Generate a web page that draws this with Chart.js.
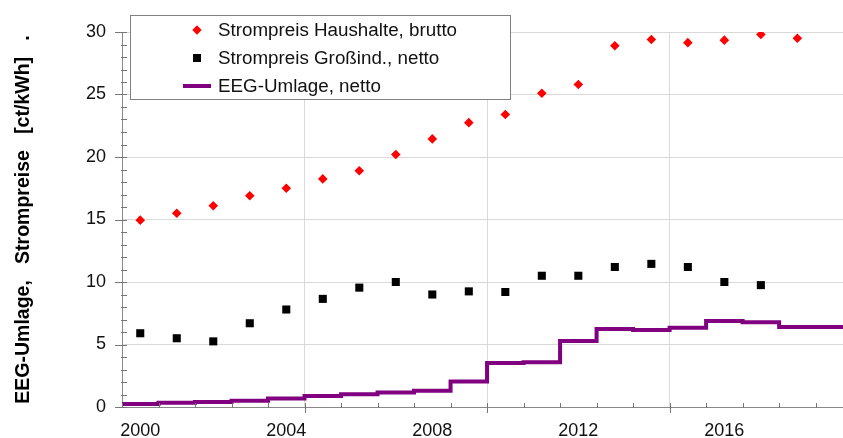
<!DOCTYPE html>
<html>
<head>
<meta charset="utf-8">
<script src="https://cdn.jsdelivr.net/npm/chart.js@4/dist/chart.umd.min.js"></script>
<style>
  html, body { margin: 0; padding: 0; background: #fff; }
</style>
</head>
<body>
<canvas id="grafico" width="843" height="438"></canvas>
<script>
// Daten
const jahre = [2000, 2001, 2002, 2003, 2004, 2005, 2006, 2007, 2008, 2009,
               2010, 2011, 2012, 2013, 2014, 2015, 2016, 2017, 2018, 2019];
const haushalte = [14.95, 15.5, 16.1, 16.9, 17.5, 18.25, 18.9, 20.2, 21.45, 22.75,
                   23.4, 25.1, 25.8, 28.9, 29.4, 29.15, 29.35, 29.8, 29.5];
const grossind = [5.9, 5.5, 5.25, 6.7, 7.8, 8.65, 9.55, 10.0, 9.0, 9.25,
                  9.2, 10.5, 10.5, 11.2, 11.45, 11.2, 10.0, 9.75];
const eegUmlage = [0.2, 0.25, 0.35, 0.41, 0.51, 0.68, 0.88, 1.02, 1.16, 1.31,
                   2.05, 3.53, 3.59, 5.28, 6.24, 6.17, 6.35, 6.88, 6.79, 6.41];
const xBeschriftung = [2000, 2004, 2008, 2012, 2016];
const xGitter = [2004.5, 2009.5, 2014.5];
const xMin = 1999.5, xMax = 2019.25;
const yTicks = [0, 5, 10, 15, 20, 25, 30];

const schrift = "'Liberation Sans', Arial, sans-serif";
const legendeEintraege = [
  { text: 'Strompreis Haushalte, brutto', typ: 'raute', farbe: '#ff0000' },
  { text: 'Strompreis Großind., netto', typ: 'quadrat', farbe: '#000000' },
  { text: 'EEG-Umlage, netto', typ: 'linie', farbe: '#800080' }
];

// Stufenlinie: jeder Wert gilt vom Jahresanfang bis zum Jahresende
const eegPunkte = jahre.map((j, i) => ({ x: j - 0.5, y: eegUmlage[i] }));
eegPunkte.push({ x: jahre[jahre.length - 1] + 0.5, y: eegUmlage[eegUmlage.length - 1] });

// kleine Teilstriche an den Achsen
const teilstriche = {
  id: 'teilstriche',
  afterDatasetsDraw(chart) {
    const { ctx, chartArea, scales } = chart;
    ctx.save();
    ctx.strokeStyle = '#777';
    ctx.lineWidth = 1;
    ctx.beginPath();
    jahre.forEach(j => {
      const x = Math.round(scales.x.getPixelForValue(j - 0.5)) + 0.5;
      if (x > chartArea.right) return;
      const gross = xGitter.includes(j - 0.5);
      ctx.moveTo(x, chartArea.bottom - 4);
      ctx.lineTo(x, chartArea.bottom + (gross ? 6 : 1));
    });
    for (let v = 0; v <= 30; v++) {
      const y = Math.round(scales.y.getPixelForValue(v)) + 0.5;
      const gross = yTicks.includes(v);
      ctx.moveTo(chartArea.left - (gross ? 7 : 1), y);
      ctx.lineTo(chartArea.left + 5, y);
    }
    ctx.stroke();
    ctx.restore();
  }
};

// Legende im Diagramm (Kasten oben links)
const legendeKasten = {
  id: 'legendeKasten',
  afterDraw(chart) {
    const ctx = chart.ctx;
    ctx.save();
    ctx.fillStyle = '#fff';
    ctx.fillRect(130.5, 15.5, 380, 84);
    ctx.strokeStyle = '#808080';
    ctx.lineWidth = 1;
    ctx.strokeRect(130.5, 15.5, 380, 84);
    ctx.font = '18.8px ' + schrift;
    ctx.textBaseline = 'middle';
    legendeEintraege.forEach((e, i) => {
      const y = 30 + i * 28;
      ctx.fillStyle = e.farbe;
      ctx.strokeStyle = e.farbe;
      if (e.typ === 'raute') {
        ctx.beginPath();
        ctx.moveTo(197, y - 4.7); ctx.lineTo(201.7, y);
        ctx.lineTo(197, y + 4.7); ctx.lineTo(192.3, y);
        ctx.closePath(); ctx.fill();
      } else if (e.typ === 'quadrat') {
        ctx.fillRect(193, y - 4, 8, 8);
      } else {
        ctx.lineWidth = 4;
        ctx.beginPath(); ctx.moveTo(183, y); ctx.lineTo(211, y); ctx.stroke();
      }
      ctx.fillStyle = '#111';
      ctx.fillText(e.text, 218, y + 1);
    });
    ctx.restore();
  }
};

const ctx = document.getElementById('grafico').getContext('2d');
const grafico = new Chart(ctx, {
  type: 'line',
  data: {
    datasets: [
      {
        label: 'Strompreis Haushalte, brutto',
        data: haushalte.map((v, i) => ({ x: jahre[i], y: v })),
        showLine: false,
        pointStyle: 'rectRot',
        pointRadius: 4.8,
        pointBorderWidth: 0,
        backgroundColor: '#ff0000',
        borderColor: '#ff0000'
      },
      {
        label: 'Strompreis Großind., netto',
        data: grossind.map((v, i) => ({ x: jahre[i], y: v })),
        showLine: false,
        pointStyle: 'rect',
        pointRadius: 5.7,
        pointBorderWidth: 0,
        backgroundColor: '#000000',
        borderColor: '#000000'
      },
      {
        label: 'EEG-Umlage, netto',
        data: eegPunkte,
        stepped: 'after',
        borderColor: '#800080',
        borderWidth: 4,
        borderJoinStyle: 'miter',
        pointRadius: 0,
        fill: false
      }
    ]
  },
  options: {
    responsive: false,
    animation: false,
    devicePixelRatio: 1,
    layout: { autoPadding: false, padding: { top: 32, right: 0, left: 0, bottom: 0 } },
    plugins: {
      legend: { display: false },
      tooltip: { enabled: false }
    },
    scales: {
      x: {
        type: 'linear',
        min: xMin,
        max: xMax,
        afterBuildTicks: scale => {
          const werte = [xMin, ...xBeschriftung, ...xGitter, xMax].sort((a, b) => a - b);
          scale.ticks = werte.map(v => ({ value: v }));
        },
        afterFit: scale => {
          scale.height = 31;
          scale.paddingLeft = 0;
          scale.paddingRight = 0;
        },
        ticks: {
          autoSkip: false,
          maxRotation: 0,
          padding: 13,
          color: '#111',
          font: { family: schrift, size: 18 },
          callback: v => xBeschriftung.includes(v) ? String(v) : ''
        },
        grid: {
          drawTicks: false,
          color: c => (c.tick && xGitter.includes(c.tick.value)) ? '#d9d9d9' : 'rgba(0,0,0,0)'
        },
        border: { color: '#888' }
      },
      y: {
        min: 0,
        max: 30,
        afterBuildTicks: scale => { scale.ticks = yTicks.map(v => ({ value: v })); },
        afterFit: scale => { scale.width = 122; },
        ticks: {
          padding: 16,
          color: '#111',
          font: { family: schrift, size: 18 }
        },
        grid: { drawTicks: false, color: '#d9d9d9' },
        border: { color: '#888' },
        title: {
          display: true,
          text: 'EEG-Umlage,   Strompreise   [ct/kWh]   .',
          color: '#000',
          font: { family: schrift, size: 19.5, weight: 'bold' },
          padding: { top: 12, bottom: 0 }
        }
      }
    }
  },
  plugins: [teilstriche, legendeKasten]
});
</script>
</body>
</html>
